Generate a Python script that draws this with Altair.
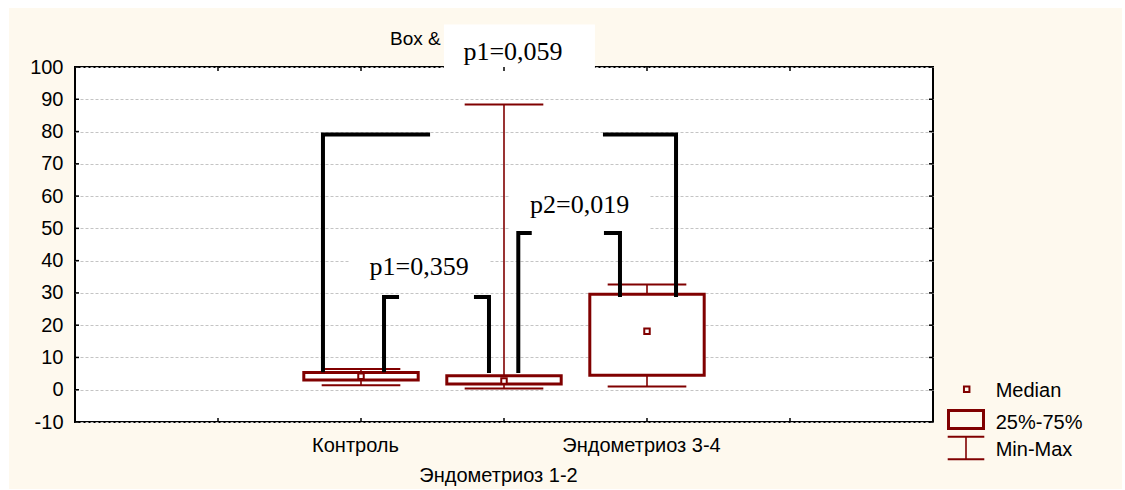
import altair as alt
import pandas as pd

# ---- data -------------------------------------------------------------
groups = ["Контроль", "Эндометриоз 1-2", "Эндометриоз 3-4"]
group_pos = [2, 3, 4]
mins = [1.4, 0.4, 1.0]
q1s = [3.0, 1.8, 4.5]
medians = [4.2, 2.7, 18.1]
q3s = [5.3, 4.3, 29.6]
maxs = [6.4, 88.4, 32.6]

# comparison brackets (one row per comparison)
br_level = [79.1, 28.7, 48.6]
br_left_x = [1.734, 2.161, 3.10]
br_left_foot = [5.4, 5.4, 5.2]
br_left_arm = [2.483, 2.266, 3.194]
br_right_arm = [3.692, 2.79, 3.699]
br_right_x = [4.203, 2.895, 3.811]
br_right_foot = [28.7, 5.2, 28.7]

# p-value labels and their white backing panels
p_text = ["p1=0,059", "p1=0,359", "p2=0,019"]
p_x = [3.063, 2.406, 3.529]
p_y = [102.1, 35.45, 54.66]
p_box_x = [2.58, 1.923, 3.042]
p_box_x2 = [3.636, 2.902, 4.021]
p_box_y = [113.2, 41.0, 60.24]
p_box_y2 = [99.6, 30.5, 49.7]

y_ticks = list(range(-10, 101, 10))
x_ticks = [1, 2, 3, 4, 5]

legend_labels = ["Median", "25%-75%", "Min-Max"]
title_text = "Box &"

# ---- styling ----------------------------------------------------------
W, H = 858, 355
RED = "#800000"
BG = "#FEF9EE"
SANS = "Liberation Sans"
SERIF = "Liberation Serif"
BOX_HALF = 0.4
CAP_HALF = 0.275

xs = alt.Scale(domain=[0, 6], nice=False, zero=False)
ys = alt.Scale(domain=[-10, 100], nice=False, zero=False)

label_expr = (
    f"datum.value == 2 ? '{groups[0]}' : "
    f"datum.value == 3 ? ['', '{groups[1]}'] : "
    f"datum.value == 4 ? '{groups[2]}' : ''"
)
x_axis = alt.Axis(values=group_pos, labelExpr=label_expr, title=None, grid=False,
                  ticks=False, domain=False, labelFontSize=20, labelFont=SANS,
                  labelColor="black", labelPadding=13, labelLineHeight=30,
                  labelOffset=-6, labelOverlap=False, labelFlush=False)
y_axis = alt.Axis(values=y_ticks, labelExpr="'' + datum.value", title=None,
                  grid=True, gridDash=[3, 2], gridColor="#c4c4c4", gridWidth=1,
                  ticks=False, domain=False, labelFontSize=20, labelFont=SANS,
                  labelColor="black", labelPadding=12, labelOverlap=False,
                  labelFlush=False)


def X(field):
    return alt.X(field, scale=xs, axis=x_axis)


def Y(field):
    return alt.Y(field, scale=ys, axis=y_axis)


stats = pd.DataFrame({"group": groups, "pos": group_pos, "min": mins, "q1": q1s,
                      "median": medians, "q3": q3s, "max": maxs})
base = alt.Chart(stats).transform_calculate(
    bl=f"datum.pos - {BOX_HALF}", br=f"datum.pos + {BOX_HALF}",
    cl=f"datum.pos - {CAP_HALF}", cr=f"datum.pos + {CAP_HALF}")

one = pd.DataFrame({"k": [0]})

# title, partly hidden by the p-value panel
title = alt.Chart(pd.DataFrame({"t": [title_text]})).mark_text(
    align="left", baseline="alphabetic", font=SANS, fontSize=19, color="black"
).encode(text="t:N", x=alt.value(315), y=alt.value(-22))

whisker = base.mark_rule(color=RED, strokeWidth=1.6).encode(
    x=X("pos:Q"), y=Y("min:Q"), y2="max:Q")
cap_hi = base.mark_rule(color=RED, strokeWidth=2).encode(
    x=X("cl:Q"), x2="cr:Q", y=Y("max:Q"))
cap_lo = base.mark_rule(color=RED, strokeWidth=2).encode(
    x=X("cl:Q"), x2="cr:Q", y=Y("min:Q"))
box = base.mark_rect(fill="white", stroke=RED, strokeWidth=3).encode(
    x=X("bl:Q"), x2="br:Q", y=Y("q1:Q"), y2="q3:Q")
med = base.mark_point(shape="square", size=30, filled=True, fill="white",
                      stroke=RED, strokeWidth=2, opacity=1).encode(
    x=X("pos:Q"), y=Y("median:Q"))

# bracket corners as polylines
rows = []
for i in range(len(br_level)):
    rows += [
        {"seg": f"{i}L", "o": 0, "x": br_left_x[i], "y": br_left_foot[i]},
        {"seg": f"{i}L", "o": 1, "x": br_left_x[i], "y": br_level[i]},
        {"seg": f"{i}L", "o": 2, "x": br_left_arm[i], "y": br_level[i]},
        {"seg": f"{i}R", "o": 0, "x": br_right_arm[i], "y": br_level[i]},
        {"seg": f"{i}R", "o": 1, "x": br_right_x[i], "y": br_level[i]},
        {"seg": f"{i}R", "o": 2, "x": br_right_x[i], "y": br_right_foot[i]},
    ]
brackets = alt.Chart(pd.DataFrame(rows)).mark_line(
    color="black", strokeWidth=4, strokeJoin="miter", strokeCap="butt"
).encode(x=X("x:Q"), y=Y("y:Q"), detail="seg:N", order="o:Q")

pdf = pd.DataFrame({"t": p_text, "x": p_x, "y": p_y, "bx": p_box_x, "bx2": p_box_x2,
                    "by": p_box_y, "by2": p_box_y2})
p_panel = alt.Chart(pdf).mark_rect(fill="white").encode(
    x=X("bx:Q"), x2="bx2:Q", y=Y("by:Q"), y2="by2:Q")
p_label = alt.Chart(pdf).mark_text(font=SERIF, fontSize=26, color="black",
                                   align="center", baseline="alphabetic").encode(
    x=X("x:Q"), y=Y("y:Q"), text="t:N")

# inward tick marks on all four sides of the frame
yt = pd.DataFrame({"v": y_ticks})
xt = pd.DataFrame({"v": x_ticks})
tick_l = alt.Chart(yt).mark_rule(color="black", strokeWidth=1.5).encode(
    y=Y("v:Q"), x=alt.value(0), x2=alt.value(4))
tick_r = alt.Chart(yt).mark_rule(color="black", strokeWidth=1.5).encode(
    y=Y("v:Q"), x=alt.value(W - 4), x2=alt.value(W))
tick_t = alt.Chart(xt).mark_rule(color="black", strokeWidth=1.5).encode(
    x=X("v:Q"), y=alt.value(0), y2=alt.value(4))
tick_b = alt.Chart(xt).mark_rule(color="black", strokeWidth=1.5).encode(
    x=X("v:Q"), y=alt.value(H - 4), y2=alt.value(H))

# legend, drawn in pixel coordinates to the right of the frame
leg_med = alt.Chart(one).mark_point(
    shape="square", size=30, filled=True, fill=BG, stroke=RED, strokeWidth=2, opacity=1
).encode(x=alt.value(891.7), y=alt.value(322.3))
leg_box = alt.Chart(one).mark_rect(fill=BG, stroke=RED, strokeWidth=3).encode(
    x=alt.value(873.5), x2=alt.value(908.5), y=alt.value(343.5), y2=alt.value(361.5))
leg_cap1 = alt.Chart(one).mark_rule(color=RED, strokeWidth=2).encode(
    x=alt.value(872.7), x2=alt.value(909.3), y=alt.value(369.7))
leg_cap2 = alt.Chart(one).mark_rule(color=RED, strokeWidth=2).encode(
    x=alt.value(872.7), x2=alt.value(909.3), y=alt.value(392.3))
leg_wv = alt.Chart(one).mark_rule(color=RED, strokeWidth=1.6).encode(
    x=alt.value(891), y=alt.value(369.7), y2=alt.value(392.3))
leg_txt = [
    alt.Chart(pd.DataFrame({"t": [lab]})).mark_text(
        align="left", baseline="middle", font=SANS, fontSize=20, color="black"
    ).encode(text="t:N", x=alt.value(920.7), y=alt.value(yy))
    for lab, yy in zip(legend_labels, [323.5, 355.5, 383.0])
]

# thin white margin around the beige panel
strip_specs = [(-75, -66, -67, 423), (-75, 1050, -67, -59),
               (1047, 1050, -67, 423), (-75, 1050, 422, 423)]
strips = [
    alt.Chart(one).mark_rect(fill="white").encode(
        x=alt.value(a), x2=alt.value(b), y=alt.value(c), y2=alt.value(d))
    for a, b, c, d in strip_specs
]

chart = alt.layer(
    title, whisker, cap_hi, cap_lo, box, med, brackets, p_panel, p_label,
    tick_l, tick_r, tick_t, tick_b,
    leg_med, leg_box, leg_cap1, leg_cap2, leg_wv, *leg_txt, *strips
).properties(
    width=W, height=H, background=BG,
    padding={"left": 75, "top": 67, "right": 192, "bottom": 68},
    autosize=alt.AutoSizeParams(type="none"),
).configure_view(fill="white", stroke="black", strokeWidth=2)

chart.save("out.html", embed_options={"renderer": "svg", "actions": False})
